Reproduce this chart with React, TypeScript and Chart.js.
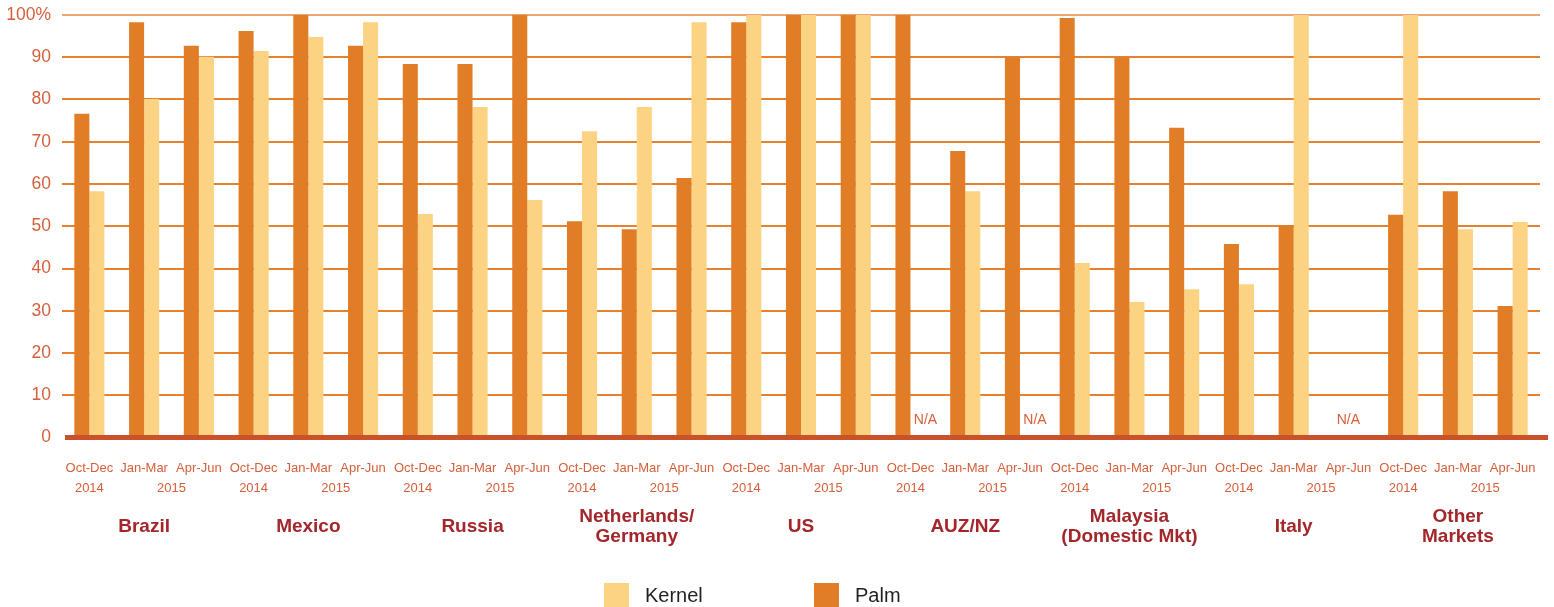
import React, { useEffect, useRef } from 'react';
import { Chart, registerables } from 'chart.js';

Chart.register(...registerables);

// ---- Data ----
const groups: string[][] = [
  ['Brazil'],
  ['Mexico'],
  ['Russia'],
  ['Netherlands/', 'Germany'],
  ['US'],
  ['AUZ/NZ'],
  ['Malaysia', '(Domestic Mkt)'],
  ['Italy'],
  ['Other', 'Markets'],
];
const periods = ['Oct-Dec', 'Jan-Mar', 'Apr-Jun'];
const years = ['2014', '2015'];
const yTickValues = [0, 10, 20, 30, 40, 50, 60, 70, 80, 90, 100];

const palmValues: (number | null)[] = [
  76.6, 98.3, 92.7,
  96.2, 100, 92.7,
  88.4, 88.4, 100,
  51.2, 49.3, 61.4,
  98.3, 100, 100,
  100, 67.8, 89.9,
  99.3, 89.9, 73.3,
  45.8, 50.3, null,
  52.7, 58.3, 31.1,
];
const kernelValues: (number | null)[] = [
  58.3, 80.1, 90.1,
  91.5, 94.8, 98.3,
  52.9, 78.2, 56.2,
  72.5, 78.2, 98.3,
  100, 100, 100,
  null, 58.3, null,
  41.3, 32.1, 35.1,
  36.3, 100, null,
  100, 49.3, 51.0,
];

// ---- Styles ----
const PALM = '#e27d27';
const KERNEL = '#fcd283';
const GRID = '#e5812f';
const GRID_TOP = '#eda571';
const BASELINE = '#c9522b';
const TICK = '#d45f3a';
const COUNTRY = '#a3262b';
const LEGEND_TEXT = '#231f20';
const FONT = '"Liberation Sans", Arial, Helvetica, sans-serif';

const labels = groups.flatMap((g) => periods.map((p) => `${g.join(' ')} ${p}`));

const overlayPlugin = {
  id: 'overlay',
  afterDatasetsDraw(chart: any) {
    const { ctx, chartArea, scales } = chart;
    const x = scales.x;
    const y = scales.y;
    const y0 = y.getPixelForValue(0);
    ctx.save();
    // thick baseline
    ctx.fillStyle = BASELINE;
    ctx.fillRect(chartArea.left + 3, y0 - 2.5, chartArea.right - chartArea.left + 5, 5);

    // N/A markers
    const step = x.getPixelForValue(1) - x.getPixelForValue(0);
    const barW = (step * 0.55) / 2;
    ctx.font = `14px ${FONT}`;
    ctx.fillStyle = TICK;
    ctx.textAlign = 'center';
    ctx.textBaseline = 'middle';
    labels.forEach((_, i) => {
      if (kernelValues[i] == null) {
        const cx = x.getPixelForValue(i);
        const px = palmValues[i] == null ? cx : cx + barW;
        ctx.fillText('N/A', px, y0 - 17.5);
      }
    });
    ctx.restore();
  },
  afterDraw(chart: any) {
    const { ctx, chartArea, scales } = chart;
    const x = scales.x;
    const bottom = chartArea.bottom;
    ctx.save();
    ctx.textAlign = 'center';
    ctx.textBaseline = 'middle';

    groups.forEach((g, gi) => {
      const i0 = gi * 3;
      // years
      ctx.font = `13px ${FONT}`;
      ctx.fillStyle = TICK;
      ctx.fillText(years[0], x.getPixelForValue(i0), bottom + 50.5);
      const mid = (x.getPixelForValue(i0 + 1) + x.getPixelForValue(i0 + 2)) / 2;
      ctx.fillText(years[1], mid, bottom + 50.5);

      // country names
      ctx.font = `bold 19px ${FONT}`;
      ctx.fillStyle = COUNTRY;
      const cx = x.getPixelForValue(i0 + 1);
      const lh = 20;
      const startY = bottom + 89.5 - ((g.length - 1) * lh) / 2;
      g.forEach((line, li) => ctx.fillText(line, cx, startY + li * lh));
    });

    // legend (Kernel first, then Palm)
    const items = [...chart.data.datasets].reverse();
    const legendX = 604;
    const legendGap = 210;
    const boxTop = bottom + 145.5;
    ctx.textAlign = 'left';
    ctx.font = `20px ${FONT}`;
    items.forEach((ds: any, k: number) => {
      const bx = legendX + k * legendGap;
      ctx.fillStyle = ds.backgroundColor;
      ctx.fillRect(bx, boxTop, 25, 25);
      ctx.fillStyle = LEGEND_TEXT;
      ctx.fillText(ds.label, bx + 41, boxTop + 13);
    });
    ctx.restore();
  },
};

export default function App() {
  const ref = useRef<HTMLCanvasElement | null>(null);

  useEffect(() => {
    document.body.style.margin = '0';
    const canvas = ref.current;
    if (!canvas) return;
    const chart = new Chart(canvas, {
      type: 'bar',
      data: {
        labels,
        datasets: [
          {
            label: 'Palm',
            data: palmValues,
            backgroundColor: PALM,
            borderWidth: 0,
            categoryPercentage: 0.55,
            barPercentage: 1.0,
          },
          {
            label: 'Kernel',
            data: kernelValues,
            backgroundColor: KERNEL,
            borderWidth: 0,
            categoryPercentage: 0.55,
            barPercentage: 1.0,
          },
        ],
      },
      options: {
        animation: false,
        responsive: false,
        devicePixelRatio: 1,
        layout: { padding: { top: 15, right: 14, left: 0, bottom: 0 } },
        plugins: {
          legend: { display: false },
          tooltip: { enabled: false },
        },
        scales: {
          x: {
            grid: { display: false, drawTicks: false },
            border: { display: false },
            ticks: {
              autoSkip: false,
              maxRotation: 0,
              minRotation: 0,
              padding: 23,
              color: TICK,
              font: { family: FONT, size: 13 },
              callback: (_v: any, i: number) => periods[i % 3],
            },
            afterFit: (s: any) => {
              s.height = 169.5;
              s.paddingLeft = 0;
              s.paddingRight = 0;
            },
          },
          y: {
            min: 0,
            max: 100,
            afterBuildTicks: (s: any) => {
              s.ticks = yTickValues.map((v) => ({ value: v }));
            },
            grid: {
              drawTicks: false,
              lineWidth: 2,
              color: (c: any) =>
                c.tick && c.tick.value === 0
                  ? 'rgba(0,0,0,0)'
                  : c.tick && c.tick.value === 100
                  ? GRID_TOP
                  : GRID,
            },
            border: { display: false },
            ticks: {
              padding: 11,
              color: TICK,
              font: { family: FONT, size: 17.5 },
              callback: (v: any) => (v === 100 ? '100%' : String(v)),
            },
            afterFit: (s: any) => {
              s.width = 62;
              s.paddingTop = 0;
              s.paddingBottom = 0;
            },
          },
        },
      },
      plugins: [overlayPlugin],
    });
    return () => chart.destroy();
  }, []);

  return (
    <div style={{ position: 'fixed', left: 0, top: 0, width: 1554, height: 607, background: '#fff' }}>
      <canvas ref={ref} width={1554} height={607} style={{ width: 1554, height: 607, display: 'block' }} />
    </div>
  );
}
